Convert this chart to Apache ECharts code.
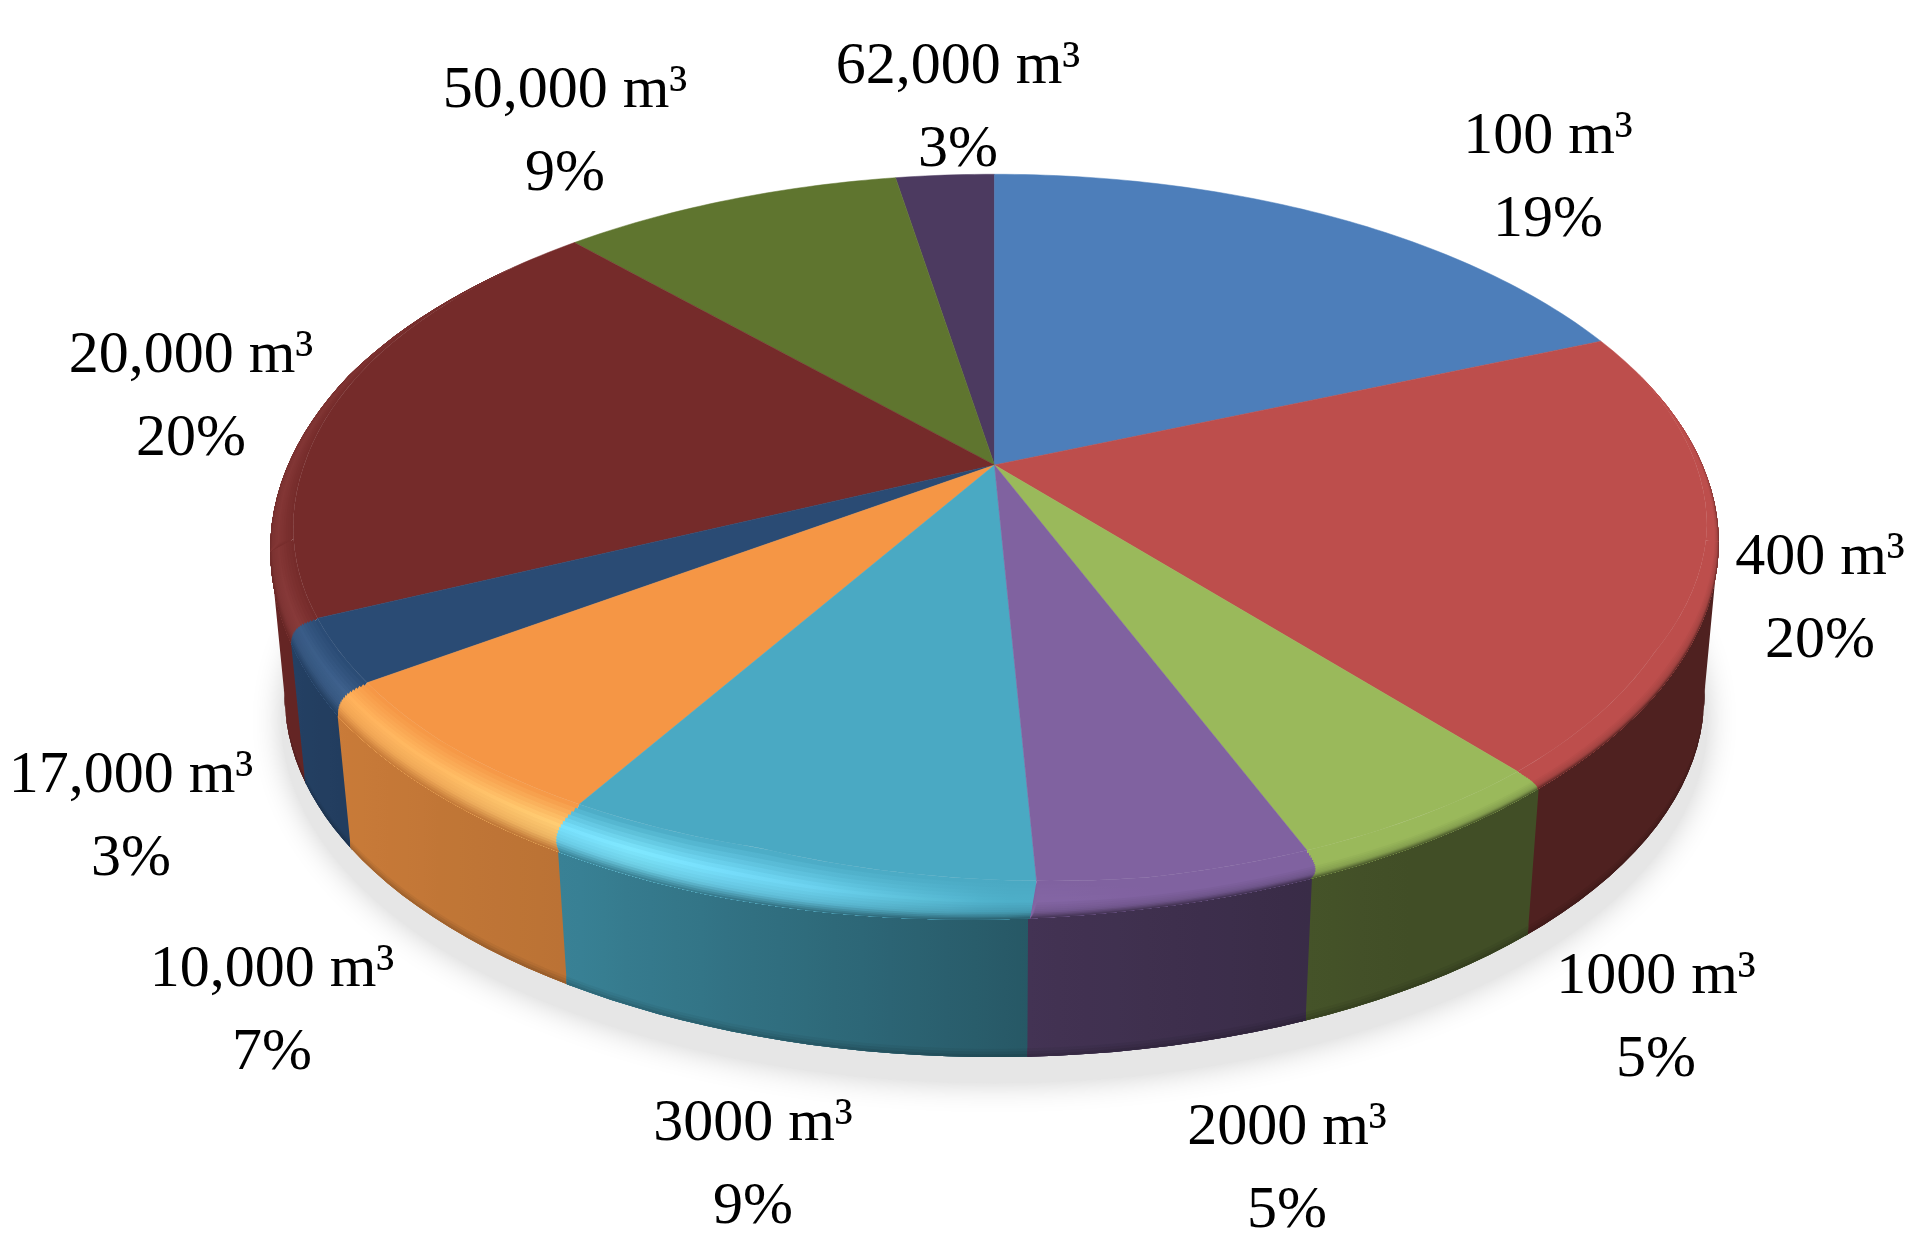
<!DOCTYPE html>
<html>
<head>
<meta charset="utf-8">
<style>
  html, body { margin: 0; padding: 0; background: #fff; }
  #chart { width: 1918px; height: 1243px; }
</style>
<script src="https://cdn.jsdelivr.net/npm/echarts@6/dist/echarts.min.js"></script>
</head>
<body>
<div id="chart"></div>
<script>
// tank volumes, printed percentages and slice sizes, clockwise from 12 o'clock
const volumes = ['100', '400', '1000', '2000', '3000', '10,000', '17,000', '20,000', '50,000', '62,000'];
const percents = [19, 20, 5, 5, 9, 7, 3, 20, 9, 3];
const shares = [18.8, 20, 5.1, 5.3, 9.5, 6.6, 2.9, 19.8, 9.3, 2.7];
const colors = ['#4d7eba', '#bd4e4c', '#9ab95b', '#8062a0', '#4aa9c3', '#f59645', '#2a4b74', '#752b2a', '#5f752f', '#4c3a60'];

// label centres, kept apart from the data
const labelX = [1548, 1820, 1656, 1287, 753, 272, 131, 191, 565, 958];
const labelY = [179, 600, 1019, 1170, 1166, 1012, 818, 398, 133, 109];

// disc projection: a tilted circle seen in perspective
const cx = 994.5, cy = 465, rx = 708, ry = 352, persp = 0.2107;
const wallDrop = 155, bottomScale = 0.98;
// clock angles where the disc's outline turns back on itself
const sideRight = 102, sideLeft = 258;

// rim look by clock angle
const flatRadius = [[75, 1], [100, 0.985], [120, 0.965], [140, 0.965], [170, 0.955], [197, 0.925], [225, 0.95], [250, 0.965], [270, 0.975], [290, 0.99], [310, 1]];
const bevelDrop = [[75, 0], [100, 0], [130, 2], [170, 6], [200, 14], [235, 18], [260, 6], [285, 0]];
const bevelLight = [[75, 0], [170, 0], [180, 0.03], [192, 0.22], [205, 0.35], [212, 0.3], [222, 0.2], [240, 0.12], [255, 0.08], [275, 0.07], [295, 0.02], [310, 0]];
const wallShade = [[75, 1], [98, 0.42], [150, 0.42], [165, 0.47], [177, 0.52], [190, 0.62], [210, 0.76], [235, 0.82], [250, 0.87], [265, 0.85], [290, 1]];
// the rim edges of the slices sit slightly off their wedge lines
const rimTwist = [[120, 0], [139, 0.3], [158, 1], [177, 0.6], [190, 0], [211, -1.2], [235, -0.7], [245, -1], [270, 0]];
const bevelBands = 16;

const starts = [];
shares.reduce((sum, v, i) => { starts[i] = sum * 3.6; return sum + v; }, 0);

function lookup(table, x) {
  if (x <= table[0][0]) return table[0][1];
  for (let i = 1; i < table.length; i++) {
    if (x <= table[i][0]) {
      const a = table[i - 1], b = table[i];
      return a[1] + (b[1] - a[1]) * (x - a[0]) / (b[0] - a[0]);
    }
  }
  return table[table.length - 1][1];
}

function project(deg, r, yOff, scale) {
  const t = deg * Math.PI / 180;
  const u = r * Math.sin(t), v = r * Math.cos(t);
  const d = 1 + persp * v;
  return [cx + scale * rx * u / d, cy + yOff - scale * ry * v / d];
}
const lerpPt = (a, b, t) => [a[0] + (b[0] - a[0]) * t, a[1] + (b[1] - a[1]) * t];
const topPt = (deg, r) => project(deg, r, 0, 1);
function wallTopPt(d) {
  const p = topPt(d + lookup(rimTwist, d), 1);
  return [p[0], p[1] + lookup(bevelDrop, d)];
}
// t = 0 at the edge of the flat top, t = 1 where the wall starts; curved so slice corners come out round
function bevelPt(d, t) {
  const flat = topPt(d, lookup(flatRadius, d));
  const corner = topPt(d, 1);
  return lerpPt(lerpPt(flat, corner, t), lerpPt(corner, wallTopPt(d), t), t);
}
// s = 0 at the top of the wall, s = 1 at its foot
function wallPt(d, s) {
  const foot = project(d + lookup(rimTwist, d), 1, wallDrop, bottomScale);
  return lerpPt(wallTopPt(d), foot, s);
}

function rgb(hex) {
  return [1, 3, 5].map(i => parseInt(hex.slice(i, i + 2), 16));
}
function shade(hex, f) {
  const c = rgb(hex).map(x => Math.min(255, Math.round(x * f)));
  return 'rgb(' + c.join(',') + ')';
}
function mix(c1, c2, t) {
  const a = c1.match(/\d+/g).map(Number), b = c2.match(/\d+/g).map(Number);
  return 'rgb(' + a.map((x, i) => Math.round(x + (b[i] - x) * t)).join(',') + ')';
}

function arcSteps(from, to, lo, hi, step) {
  const a = Math.max(from, lo), b = Math.min(to, hi), out = [];
  if (b <= a) return out;
  const n = Math.max(1, Math.ceil((b - a) / step));
  for (let i = 0; i <= n; i++) out.push(a + (b - a) * i / n);
  return out;
}

// a strip along the arc from level lo to level hi, shaded left to right by a gradient
function strip(steps, pointAt, lo, hi, colorAt) {
  const inner = steps.map(d => pointAt(d, lo));
  const outer = steps.map(d => pointAt(d, hi));
  const xs = inner.map(p => p[0]);
  const minX = Math.min.apply(null, xs), maxX = Math.max.apply(null, xs);
  const span = Math.max(1, maxX - minX);
  const colorStops = steps.map((d, k) => ({ offset: (xs[k] - minX) / span, color: colorAt(d) }))
    .sort((a, b) => a.offset - b.offset);
  return {
    type: 'polygon',
    shape: { points: inner.concat(outer.reverse()) },
    style: {
      fill: { type: 'linear', global: true, x: minX, y: 0, x2: minX + span, y2: 0, colorStops: colorStops }
    }
  };
}

function renderShadow() {
  const pts = [];
  for (let d = 0; d < 360; d += 3) {
    pts.push(project(d, 1, wallDrop + 24, 0.985));
  }
  return {
    type: 'polygon',
    shape: { points: pts },
    style: { fill: '#e6e6e6', shadowBlur: 30, shadowColor: '#cfcfcf' }
  };
}

function renderWall(params, api) {
  const i = api.value(0);
  const from = starts[i], to = from + api.value(1) * 3.6;
  // walls overlap a hair so the shadow behind does not show through the joints
  const steps = arcSteps(from - 0.15, to + 0.15, sideRight, sideLeft, 2);
  if (!steps.length) return { type: 'group', children: [] };
  const children = [
    [0, 1], [0.94, 0.95], [0.96, 0.89], [0.98, 0.82]
  ].map(level => strip(steps, wallPt, level[0], 1, d => shade(colors[i], lookup(wallShade, d) * level[1])));
  return { type: 'group', children: children };
}

function bevelColor(i, d, t) {
  const hl = lookup(bevelLight, d);
  const base = shade(colors[i], 1);
  const light = mix(shade(colors[i], 1 + hl), 'rgb(255,255,255)', hl * 0.5);
  const wall = shade(colors[i], lookup(wallShade, d));
  if (t < 0.4) return mix(base, light, t / 0.4);
  if (t < 0.7) return mix(light, mix(light, wall, 0.25), (t - 0.4) / 0.3);
  return mix(mix(light, wall, 0.25), wall, (t - 0.7) / 0.3);
}

function renderTop(params, api) {
  const i = api.value(0);
  const from = starts[i], to = from + api.value(1) * 3.6;
  const pts = [[cx, cy]];
  arcSteps(from, to, 0, 360, 1).forEach(d => pts.push(topPt(d, lookup(flatRadius, d))));
  const children = [{
    type: 'polygon',
    shape: { points: pts },
    style: { fill: colors[i], stroke: colors[i], lineWidth: 0.5 }
  }];
  // split at the outline's turning points so the left-right gradient stays one-valued
  [[70, sideRight], [sideRight, sideLeft], [sideLeft, 315]].forEach(range => {
    const steps = arcSteps(from, to, range[0], range[1], 2);
    if (!steps.length) return;
    // each band reaches to the outer edge and the next one paints over it, so no seams show
    for (let b = 0; b < bevelBands; b++) {
      const t = b / bevelBands;
      children.push(strip(steps, bevelPt, t, 1, d => bevelColor(i, d, t + 0.5 / bevelBands)));
    }
  });
  return { type: 'group', children: children };
}

function renderLabel(params, api) {
  const i = api.value(0);
  return {
    type: 'text',
    x: labelX[i],
    y: labelY[i],
    style: {
      text: volumes[i] + ' m³\n' + percents[i] + '%',
      fill: '#000',
      font: '60px "Liberation Serif"',
      lineHeight: 83,
      align: 'center',
      verticalAlign: 'middle'
    }
  };
}

const chart = echarts.init(document.getElementById('chart'));
const rows = shares.map((v, i) => [i, v]);
// slices nearest the viewer are painted last so their rims overlap the ones behind
const frontLast = rows.slice().sort((a, b) => {
  const far = r => Math.abs(starts[r[0]] + r[1] * 1.8 - 180);
  return far(b) - far(a);
});
chart.setOption({
  animation: false,
  backgroundColor: '#ffffff',
  series: [
    { type: 'custom', coordinateSystem: 'none', silent: true, renderItem: renderShadow, data: [[0, 100]] },
    { type: 'custom', coordinateSystem: 'none', silent: true, renderItem: renderWall, data: frontLast },
    { type: 'custom', coordinateSystem: 'none', silent: true, renderItem: renderTop, data: frontLast },
    { type: 'custom', coordinateSystem: 'none', silent: true, renderItem: renderLabel, data: rows }
  ]
});
</script>
</body>
</html>
